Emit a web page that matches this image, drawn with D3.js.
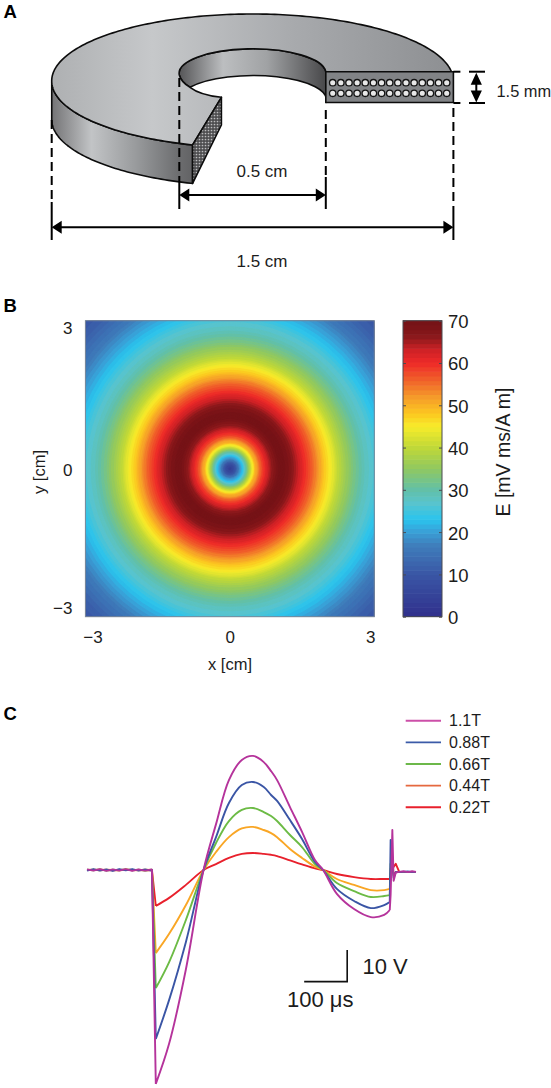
<!DOCTYPE html>
<html>
<head>
<meta charset="utf-8">
<script src="https://cdn.jsdelivr.net/npm/d3@7"></script>
<style>
html,body{margin:0;padding:0;background:#fff;}
svg{display:block;font-family:"Liberation Sans",Arial,sans-serif;}
text{fill:#1c1c1c;}
</style>
</head>
<body>
<svg id="fig" width="551" height="1088" viewBox="0 0 551 1088"></svg>
<script>
// ---------- Panel B data ----------
const heatTicks = [-3, 0, 3];
const heatTickLabels = ["\u22123", "0", "3"];
const radiusCm = [0, .1, .17, .23, .28, .33, .38, .43, .48, .53, .59, .66, .73, .8, .88, 1.05, 1.2, 1.3, 1.42, 1.56, 1.7, 1.85, 1.97, 2.1, 2.22, 2.34, 2.56, 2.8, 3.0, 3.2, 3.4, 3.7, 4.0, 4.25];
const fieldE    = [3, 8, 14, 20, 24, 29, 34, 40, 45, 49, 53, 57, 60, 63, 66, 70, 68.5, 66.5, 63.5, 60, 56.5, 52, 48, 45, 41, 38, 33, 28.5, 26, 23, 20, 15.5, 12, 10];
const cbarTicks = [0, 10, 20, 30, 40, 50, 60, 70];
const cmapStops = [0, 10, 17, 20, 23, 27, 30, 35, 40, 45, 48, 52, 56, 60, 63, 66, 68, 70];
const cmapColors = ["#30308c", "#3a56a5", "#3f7fbc", "#3a9fd6", "#2ac4ee", "#5ac4cc", "#62c0a8", "#90c860", "#c0d838", "#f7ec2a", "#fcc820", "#f59a2a", "#f0602a", "#ee2a28", "#cf2226", "#8e1a1c", "#7c1418", "#741216"];

// ---------- Panel C data (time in microseconds, voltage in volts) ----------
const timeUs = [-151, -136, -121, -106, -91, -76, -61, -46, -31, -16, -1, 0, 9, 40, 79, 120, 149, 179, 209, 235, 260, 277, 291, 321, 349, 379, 398, 430, 470, 509, 540, 553, 555, 559, 562, 567, 575, 585, 595, 605, 614];
const trace110 = [0.2, -0.2, 0.3, -0.3, 0.2, -0.2, 0.3, -0.3, 0.2, -0.2, 0.2, 0, -69, -56, -32, 0, 14.8, 29, 35.5, 36.8, 34.8, 31.9, 29, 20.3, 12.3, 3.2, 0, -7.7, -12.6, -15.2, -14.5, -12.9, -8, 12.9, -3.5, -0.8, -0.6, -0.4, -0.7, -0.4, -0.6];
const trace088 = [-0.2, 0.3, -0.2, 0.2, -0.3, 0.3, -0.1, 0.3, -0.2, 0.2, -0.2, 0, -54.5, -41.9, -23.2, 0, 10.6, 21.6, 27.4, 28.4, 26.8, 24.2, 22.3, 16.1, 10, 2.6, 0, -6.1, -10, -12.3, -11.3, -10.3, 9.7, 2, -2.5, -0.6, -0.7, -0.6, -0.5, -0.7, -0.6];
const trace066 = [0.1, -0.1, 0.2, -0.2, 0.1, -0.1, 0.2, -0.1, 0.1, -0.2, 0.1, 0, -38.1, -29.7, -16.1, 0, 8.7, 15.8, 19.4, 20, 18.7, 17.4, 15.8, 11.3, 7.4, 1.9, 0, -4.2, -6.8, -8.7, -8.4, -8.1, 2, 0.5, -1.8, -0.7, -0.6, -0.6, -0.7, -0.6, -0.6];
const trace044 = [0, 0.1, -0.1, 0.1, 0, -0.1, 0.1, 0, -0.1, 0.1, 0, 0, -26.8, -20.6, -11.3, 0, 5.8, 10.6, 13.4, 13.9, 12.9, 11.9, 10.6, 6.8, 3.9, 1.1, 0, -2.9, -4.8, -6.5, -6.5, -6.1, 0.5, 0.2, -1.2, -0.6, -0.6, -0.7, -0.6, -0.6, -0.6];
const trace022 = [0, 0, 0.1, 0, -0.1, 0, 0.1, 0, 0, -0.1, 0, 0, -11.6, -9, -4.8, 0, 1.9, 3.9, 5.2, 5.5, 5.2, 4.9, 4.5, 3.1, 1.8, 0.5, 0, -1.3, -2.3, -2.9, -2.9, -2.9, -1, 0.5, 1, 2, -0.6, -0.6, -0.6, -0.6, -0.6];
const traceNames = ["1.1T", "0.88T", "0.66T", "0.44T", "0.22T"];
const traceColors = ["#b5339b", "#3a55a5", "#6cbb45", "#f9a625", "#e8202c"];
const legendColors = ["#cc4fa8", "#3b5ba8", "#6cb84a", "#e5683f", "#e8202c"];
const traces = [trace110, trace088, trace066, trace044, trace022];

const svg = d3.select("#fig");
const defs = svg.append("defs");
const label = (x, y, s, size, extra = {}) => {
  const t = svg.append("text").attr("x", x).attr("y", y).attr("font-size", size).text(s);
  Object.entries(extra).forEach(([k, v]) => t.attr(k, v));
  return t;
};
label(3.5, 17.5, "A", 18.5, {"font-weight": "bold", style: "fill:#000"});
label(3.5, 312, "B", 18.5, {"font-weight": "bold", style: "fill:#000"});
label(3.5, 720, "C", 18.5, {"font-weight": "bold", style: "fill:#000"});

// ---------- Panel A: schematic of the coil ----------
const gradient = (id, x1, x2, stops) => {
  const g = defs.append("linearGradient").attr("id", id).attr("gradientUnits", "userSpaceOnUse")
    .attr("x1", x1).attr("x2", x2).attr("y1", 0).attr("y2", 0);
  stops.forEach(([o, c]) => g.append("stop").attr("offset", o).attr("stop-color", c));
};
gradient("gTop", 52, 453, [[0, "#aeb0b2"], [.25, "#c6c8ca"], [.6, "#a8aaad"], [1, "#8d8f92"]]);
gradient("gOuter", 52, 193, [[0, "#747476"], [.28, "#c2c4c6"], [.6, "#989a9c"], [.9, "#6c6d6f"], [1, "#626264"]]);
gradient("gInner", 179, 326, [[0, "#555557"], [.3, "#bcbec0"], [.6, "#a0a2a4"], [1, "#48484a"]]);
const pat = defs.append("pattern").attr("id", "stip").attr("patternUnits", "userSpaceOnUse").attr("width", 3).attr("height", 3);
pat.append("rect").attr("width", 3).attr("height", 3).attr("fill", "#4e4e50");
pat.append("circle").attr("cx", 1.5).attr("cy", 1.5).attr("r", .85).attr("fill", "#bcbcbe");

const cm = d3.scaleLinear([-0.75, 0.75], [51.7, 453.4]);
const XL = cm(-0.75), XR = cm(0.75), XI1 = 179.3, XI2 = 325.8;
const Y0 = 71.7, Y1 = 102.5, WALL = 38.5;
const CX = cm(0), CY = 81, RX = XR - CX, RY = 67;
// outer rim points, right end -> over the top -> left -> front cut
const cutAngle = -(Math.PI + Math.acos((CX - 192.6) / RX));
const rimAngles = d3.range(-0.14, cutAngle, -0.02).concat([cutAngle]);
const rim = a => [CX + RX * Math.cos(a), CY + RY * Math.sin(a)];
const rimPts = rimAngles.map(rim);
const poly = d3.line();
const cut = rim(cutAngle);
const frontPts = rimAngles.filter(a => a <= -Math.PI).map(rim);
const wallBottom = frontPts.map(p => [p[0], p[1] + WALL]).reverse();
const paths = [
  {fill: "url(#gOuter)", d: poly(frontPts) + "L" + poly(wallBottom).slice(1) + "Z"},
  {fill: "url(#gInner)", d: `M${XI1},75 A73.3 24.5 0 0 1 ${XI2},${Y0} L${XI2},${Y1} A73.3 24 0 0 0 190,87.3 Q181,82 ${XI1},75 Z`},
  {fill: "url(#gTop)", d: `M${XR},${Y0} L` + poly(rimPts).slice(1) + `L221.4,97.3 Q200,95 190,87.3 Q181,82 ${XI1},75 A73.3 24.5 0 0 1 ${XI2},${Y0} Z`},
  {fill: "url(#stip)", d: `M221.4,97.3 L221.4,125 L${cut[0]},${cut[1] + WALL} L${cut[0]},${cut[1]} Z`},
  {fill: "#818386", d: `M${XI2},${Y0} L${XR},${Y0} L${XR},${Y1} L${XI2},${Y1} Z`}
];
svg.append("g").selectAll("path").data(paths).join("path")
  .attr("d", d => d.d).attr("fill", d => d.fill).attr("stroke", "#0c0c0c").attr("stroke-width", 1.6).attr("stroke-linejoin", "round");

const coilCols = d3.range(15), coilRows = [82.7, 93.3];
const colX = d3.scaleLinear([0, 14], [332.7, 446.7]);
svg.append("g").selectAll("circle").data(coilRows.flatMap(y => coilCols.map(c => ({y, c})))).join("circle")
  .attr("cx", d => colX(d.c)).attr("cy", d => d.y).attr("r", 3.2)
  .attr("fill", "#e8e8e8").attr("stroke", "#141414").attr("stroke-width", 1.3);

const guides = [
  {x: XL, a: 120, b: 202, c: 240},
  {x: XI1, a: 78, b: 182, c: 209},
  {x: XI2, a: 110, b: 177, c: 209},
  {x: XR, a: 108, b: 207, c: 240}
];
const gg = svg.append("g").attr("stroke", "#000").attr("stroke-width", 2);
gg.selectAll("line.d").data(guides).join("line").attr("class", "d")
  .attr("x1", d => d.x).attr("x2", d => d.x).attr("y1", d => d.a).attr("y2", d => d.b).attr("stroke-dasharray", "9 5");
gg.selectAll("line.s").data(guides).join("line").attr("class", "s")
  .attr("x1", d => d.x).attr("x2", d => d.x).attr("y1", d => d.b).attr("y2", d => d.c);
const hArrow = (x1, x2, y) => {
  gg.append("line").attr("x1", x1 + 5).attr("x2", x2 - 5).attr("y1", y).attr("y2", y);
  svg.append("path").attr("fill", "#000").attr("d", `M${x1},${y} l10,-6.5 v13 Z M${x2},${y} l-10,-6.5 v13 Z`);
};
hArrow(XI1, XI2, 195);
hArrow(XL, XR, 227.3);
[Y0, Y1 + .5].forEach(y => {
  gg.append("line").attr("x1", XR).attr("x2", 465).attr("y1", y).attr("y2", y).attr("stroke-dasharray", "7 20");
  gg.append("line").attr("x1", 469).attr("x2", 485).attr("y1", y).attr("y2", y);
});
gg.append("line").attr("x1", 476.3).attr("x2", 476.3).attr("y1", Y0 + 4).attr("y2", Y1 - 4);
svg.append("path").attr("fill", "#000").attr("d", `M476.3,${Y0 + 1} l-5.6,12 h11.2 Z M476.3,${Y1} l-5.6,-12 h11.2 Z`);
label(262, 177, "0.5 cm", 17, {"text-anchor": "middle"});
label(262, 266.5, "1.5 cm", 17, {"text-anchor": "middle"});
label(496.5, 96.5, "1.5 mm", 16.4);

// ---------- Panel B: field map ----------
const X = d3.scaleLinear([-3, 3], [85.4, 374.3]);
const Y = d3.scaleLinear([-3, 3], [616.7, 320.7]);
const profile = d3.scaleLinear(radiusCm, fieldE).clamp(true);
const ramp = d3.scaleLinear(cmapStops, cmapColors);
const levels = d3.range(64).map(i => (i + .5) * 70 / 64);
const color = d3.scaleQuantize([0, 70], levels.map(v => ramp(v)));

defs.append("clipPath").attr("id", "heatClip").append("rect")
  .attr("x", X(-3)).attr("y", Y(3)).attr("width", X(3) - X(-3)).attr("height", Y(-3) - Y(3));
const rings = d3.range(4.3, 0, -0.015);
svg.append("g").attr("clip-path", "url(#heatClip)").selectAll("ellipse").data(rings).join("ellipse")
  .attr("cx", X(0)).attr("cy", Y(0))
  .attr("rx", r => X(r) - X(0)).attr("ry", r => Y(0) - Y(r))
  .attr("fill", r => color(profile(r)));
svg.append("rect").attr("x", X(-3)).attr("y", Y(3)).attr("width", X(3) - X(-3)).attr("height", Y(-3) - Y(3))
  .attr("fill", "none").attr("stroke", "#7d8998").attr("stroke-width", 1);

const styleAxis = (g, size) => {
  g.select(".domain").remove();
  g.selectAll("text").attr("font-size", size).attr("font-family", "Liberation Sans").style("fill", "#1c1c1c");
};
const fmt = d => heatTickLabels[heatTicks.indexOf(d)];
const axL = svg.append("g").attr("transform", `translate(${X(-3)},0)`)
  .call(d3.axisLeft(Y).tickValues(heatTicks).tickFormat(fmt).tickSize(0).tickPadding(13));
styleAxis(axL, 17);
axL.selectAll("text").attr("transform", d => `translate(0,${d === 3 ? 7.5 : d === 0 ? 1.5 : -8.5})`);
const axB = svg.append("g").attr("transform", `translate(0,${Y(-3)})`)
  .call(d3.axisBottom(X).tickValues(heatTicks).tickFormat(fmt).tickSize(0).tickPadding(14));
styleAxis(axB, 17);
axB.selectAll("text").attr("transform", d => `translate(${d === 3 ? -4 : d === 0 ? 0 : 7},0)`);
label(230, 670, "x [cm]", 16.5, {"text-anchor": "middle"});
label(0, 0, "y [cm]", 16.5, {"text-anchor": "middle", transform: "translate(44.5,472) rotate(-90)"});

// colour bar
const C = d3.scaleLinear([0, 70], [616.7, 320.7]);
const barX0 = 403, barX1 = 442;
svg.append("g").selectAll("rect").data(levels).join("rect")
  .attr("x", barX0).attr("width", barX1 - barX0)
  .attr("y", v => C(v + 35 / 64) - .3).attr("height", C(0) - C(70 / 64) + .6)
  .attr("fill", v => color(v));
svg.append("rect").attr("x", barX0).attr("y", C(70)).attr("width", barX1 - barX0).attr("height", C(0) - C(70))
  .attr("fill", "none").attr("stroke", "#4a4a50").attr("stroke-width", 1);
const axR = svg.append("g").attr("transform", `translate(${barX1},0)`)
  .call(d3.axisRight(C).tickValues(cbarTicks).tickSize(-3).tickPadding(6));
styleAxis(axR, 18.5);
axR.selectAll("text").attr("transform", "translate(0,1)");
axR.selectAll("line").attr("stroke", "#4a4a50");
const axR2 = svg.append("g").attr("transform", `translate(${barX0},0)`)
  .call(d3.axisLeft(C).tickValues(cbarTicks).tickSize(-3).tickFormat(""));
axR2.select(".domain").remove();
axR2.selectAll("line").attr("stroke", "#4a4a50");
label(0, 0, "E [mV ms/A m]", 19.5, {"text-anchor": "middle", transform: "translate(509.5,452) rotate(-90)"});

// ---------- Panel C: traces ----------
const T = d3.scaleLinear([-151, 614], [87, 416]);
const V = d3.scaleLinear([0, 10], [870, 839]);
const straight = d3.line().x(d => T(d[0])).y(d => V(d[1]));
const smooth = d3.line().x(d => T(d[0])).y(d => V(d[1])).curve(d3.curveCatmullRom.alpha(0.5));
const iTrough = timeUs.indexOf(9), iEnd = timeUs.indexOf(553);
const traceD = i => {
  const pts = timeUs.map((t, k) => [t, traces[i][k]]);
  return straight(pts.slice(0, iTrough + 1)) + smooth(pts.slice(iTrough, iEnd + 1)) + straight(pts.slice(iEnd));
};
svg.append("g").attr("fill", "none").attr("stroke-width", 1.9).attr("stroke-linejoin", "round")
  .selectAll("path").data(d3.range(traces.length).reverse()).join("path")
  .attr("d", traceD)
  .attr("stroke", i => traceColors[i]);

// legend
const legY = d3.scalePoint(traceNames, [720.7, 807.3]);
const lg = svg.append("g").selectAll("g").data(traceNames).join("g");
lg.append("line").attr("x1", 405.7).attr("x2", 441).attr("y1", d => legY(d)).attr("y2", d => legY(d))
  .attr("stroke", (d, i) => legendColors[i]).attr("stroke-width", 1.9);
lg.append("text").attr("x", 449).attr("y", d => legY(d) + 5.6).attr("font-size", 16).text(d => d);

// scale bar
svg.append("path").attr("fill", "none").attr("stroke", "#111").attr("stroke-width", 1.6)
  .attr("d", `M${T(354)},${V(-36)} H${T(454)} V${V(-25.8)}`);
label(362.5, 974, "10 V", 22);
label(287, 1006.5, "100 \u03bcs", 22);
</script>
</body>
</html>
